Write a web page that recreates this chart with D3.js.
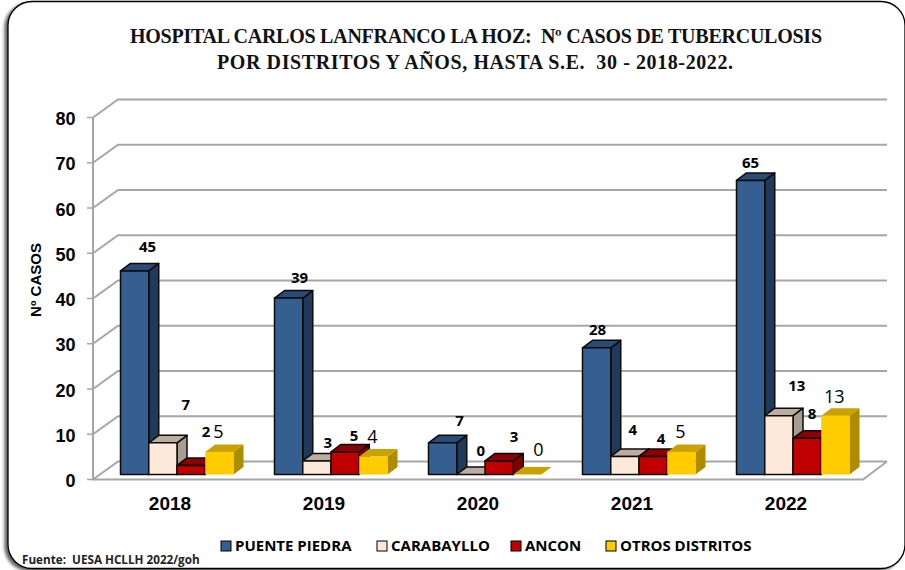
<!DOCTYPE html>
<html><head><meta charset="utf-8">
<script src="https://cdn.jsdelivr.net/npm/d3@7"></script>
<style>html,body{margin:0;padding:0;background:#fff}svg{display:block}</style></head>
<body><svg id="c" width="905" height="570"></svg>
<script>
const years = ["2018","2019","2020","2021","2022"];
const seriesNames = ["PUENTE PIEDRA","CARABAYLLO","ANCON","OTROS DISTRITOS"];
const puentePiedra = [45,39,7,28,65];
const carabayllo = [7,3,0,4,13];
const ancon = [2,5,3,4,8];
const otros = [5,4,0,5,13];
const yTicks = [0,10,20,30,40,50,60,70,80];
const colors = [
 {front:"#355F91",top:"#2A4C74",side:"#1F3A5B",stroke:"#0b0b0b"},
 {front:"#FDE9DA",top:"#BDAD9F",side:"#A99C90",stroke:"#0b0b0b"},
 {front:"#C00000",top:"#8E0000",side:"#7F0000",stroke:"#0b0b0b"},
 {front:"#FFCC00",top:"#C9A100",side:"#AD8C00",stroke:"none"}
];
const allSeries = [puentePiedra,carabayllo,ancon,otros];

// label nudges from the default position above each bar: [dx,dy] by series, by year
const nudges = [
 [[13,-11],[11,-7],[17,-9],[1,-5],[0,-4]],
 [[23,-25],[11,-5],[10,-11],[8,-13],[18,-17]],
 [[15,-20],[9,-3],[15,-11],[8,-4],[5,-11]],
 [[-1,-6],[-1,-5],[11,-11],[-1,-6],[-1,-5]]
];

const svg = d3.select("#c");
const defs = svg.append("defs");
const f = defs.append("filter").attr("id","sh").attr("x","-5%").attr("y","-5%").attr("width","110%").attr("height","110%");
f.append("feDropShadow").attr("dx",-3).attr("dy",2).attr("stdDeviation",1.8).attr("flood-color","#000").attr("flood-opacity",0.6);

svg.append("rect").attr("x",8).attr("y",1.5).attr("width",897).attr("height",567).attr("rx",24)
  .attr("fill","#fff").attr("stroke","#000").attr("stroke-width",1.3).attr("filter","url(#sh)");

const serif = "'Liberation Serif',serif", sans="'Liberation Sans',sans-serif", open="'Open Sans',sans-serif";
const titleLines = ["HOSPITAL CARLOS LANFRANCO LA HOZ:  Nº CASOS DE TUBERCULOSIS","POR DISTRITOS Y AÑOS, HASTA S.E.  30 - 2018-2022."];
const titleWidths = [692,516];
svg.selectAll("text.title").data(titleLines)
 .join("text").attr("x",(d,i)=>476-i).attr("y",(d,i)=>43+i*26).attr("text-anchor","middle")
 .attr("textLength",(d,i)=>titleWidths[i]).attr("lengthAdjust","spacing")
 .attr("xml:space","preserve").style("white-space","pre")
 .attr("font-family",serif).attr("font-weight",700).attr("font-size",20).attr("fill","#111").text(d=>d);

const DX=25, DY=-18, barDX=10, barDY=-7.5;
const y = d3.scaleLinear().domain([0,80]).range([479.5,117.5]);
const x0 = d3.scaleBand().domain(years).range([93,863]);
const x1 = d3.scaleBand().domain(seriesNames).range([27.5,27.5+113]);
const base = 474.5;
const h = v => y(0)-y(v);

const axis = svg.append("g").attr("fill","none").attr("stroke","#A6A6A6").attr("stroke-width",2);
yTicks.forEach(t=>{
  const yy=y(t);
  axis.append("path").attr("d",`M93,${yy}L${93+DX},${yy+DY}H887`);
  axis.append("path").attr("d",`M87,${yy}H93`).attr("stroke-width",1.5);
});
axis.append("path").attr("d",`M93,${y(80)}V${y(0)}H863L887,${y(0)+DY}`);

svg.append("g").selectAll("text").data(yTicks).join("text")
 .attr("x",75.5).attr("y",d=>y(d)+7.5).attr("text-anchor","end")
 .attr("font-family",sans).attr("font-weight",700).attr("font-size",18).attr("fill","#000").text(d=>d);
svg.append("g").selectAll("text").data(years).join("text")
 .attr("x",d=>x0(d)+x0.bandwidth()/2).attr("y",510).attr("text-anchor","middle")
 .attr("font-family",sans).attr("font-weight",700).attr("font-size",19).attr("fill","#000").text(d=>d);
svg.append("text").attr("transform","translate(41,280) rotate(-90)").attr("text-anchor","middle")
 .attr("font-family",sans).attr("font-weight",700).attr("font-size",15).attr("fill","#000").text("Nº CASOS");

const bars = svg.append("g");
years.forEach((yr,yi)=>{
  seriesNames.forEach((s,si)=>{
    const v=allSeries[si][yi], c=colors[si];
    const xl=x0(yr)+x1(s), w=x1.bandwidth(), ht=h(v), t=base-ht;
    const g=bars.append("g").attr("stroke",c.stroke==="none"?null:c.stroke).attr("stroke-width",1.5).attr("stroke-linejoin","round");
    g.append("path").attr("fill",c.side).attr("d",`M${xl+w},${t}l${barDX},${barDY}V${base+barDY}l${-barDX},${-barDY}Z`);
    g.append("path").attr("fill",c.top).attr("d",`M${xl},${t}l${barDX},${barDY}h${w}l${-barDX},${-barDY}Z`);
    if(ht>0) g.append("rect").attr("x",xl).attr("y",t).attr("width",w).attr("height",ht).attr("fill",c.front);
  });
});

const labels = svg.append("g");
seriesNames.forEach((s,si)=>{
  years.forEach((yr,yi)=>{
    const v=allSeries[si][yi], n=nudges[si][yi];
    const cx=x0(yr)+x1(s)+x1.bandwidth()/2, t=base-h(v);
    const plain=si===3;
    labels.append("text").attr("x",cx+n[0]).attr("y",t-8+n[1]).attr("text-anchor","middle")
     .attr("font-family",open).attr("font-weight",plain?400:700).attr("font-size",plain?18:15)
     .attr("fill","#000").text(v);
  });
});

const legendX=[221,377,511,606];
const lg=svg.append("g");
seriesNames.forEach((s,i)=>{
  lg.append("rect").attr("x",legendX[i]).attr("y",541).attr("width",10).attr("height",10)
    .attr("fill",colors[i].front).attr("stroke","#000").attr("stroke-width",1);
  lg.append("text").attr("x",legendX[i]+14).attr("y",551).attr("font-family",open).attr("font-weight",700)
    .attr("font-size",15).attr("fill","#000").text(s);
});
svg.append("text").attr("x",22).attr("y",564).attr("font-family",open).attr("font-weight",700)
  .attr("font-size",11.7).attr("fill","#222").attr("xml:space","preserve").style("white-space","pre").text("Fuente:  UESA HCLLH 2022/goh");
</script></body></html>
